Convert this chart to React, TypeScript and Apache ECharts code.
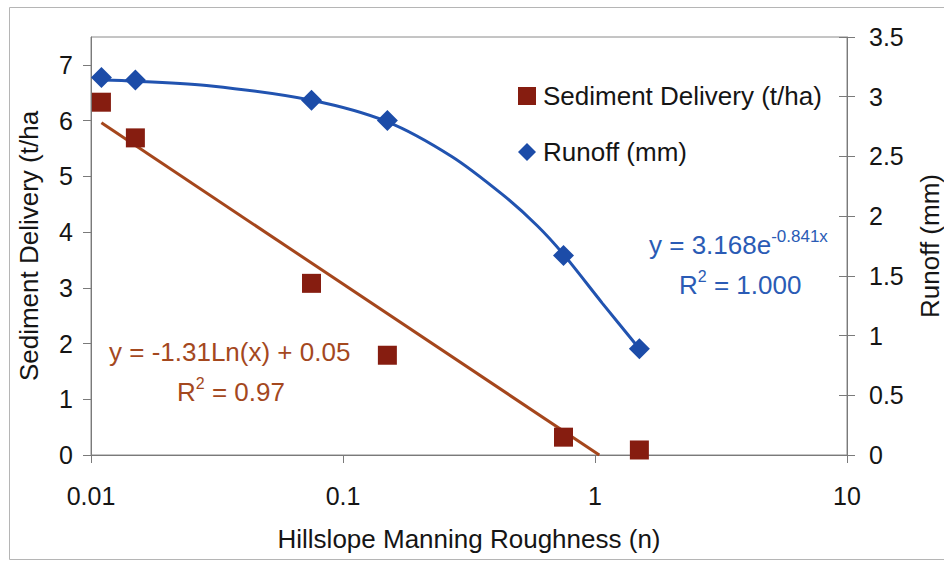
import React, { useEffect, useRef } from "react";
import * as echarts from "echarts";

const roughness = [0.011, 0.015, 0.075, 0.15, 0.75, 1.5];
const sedimentDelivery = [6.33, 5.69, 3.08, 1.79, 0.32, 0.09];
const runoff = [3.16, 3.14, 2.97, 2.8, 1.67, 0.89];

// Trend lines
const sedimentTrendX = [0.011, 1.04];
const sedimentTrendY = [5.96, 0];
const runoffTrendX = [0.011, 0.015, 0.03, 0.075, 0.15, 0.27, 0.43, 0.59, 0.75, 1.07, 1.5];
const runoffTrendY = [3.14, 3.13, 3.09, 2.97, 2.79, 2.5, 2.18, 1.92, 1.68, 1.27, 0.89];

// Axes
const xTickLabels = ["0.01", "0.1", "1", "10"];
const leftTicks = [0, 1, 2, 3, 4, 5, 6, 7];
const rightTicks = [0, 0.5, 1, 1.5, 2, 2.5, 3, 3.5];

const FONT = "'Liberation Sans', Arial, Helvetica, sans-serif";
const AXIS_GRAY = "#7a7a7a";
const TEXT = "#151515";
const SED_MARK = "#861d10";
const SED_LINE = "#a5461c";
const SED_TEXT = "#a4481e";
const RUN_MARK = "#1c4ca8";
const RUN_LINE = "#2153b0";
const RUN_TEXT = "#2a5bb5";

export default function App() {
  const ref = useRef<HTMLDivElement>(null);

  useEffect(() => {
    document.body.style.margin = "0";
    if (!ref.current) return;
    const chart = echarts.init(ref.current, undefined, { renderer: "svg" });

    const option: any = {
      animation: false,
      backgroundColor: "#ffffff",
      textStyle: { fontFamily: FONT },
      grid: {
        left: 91,
        top: 37,
        right: 97,
        bottom: 106,
        containLabel: false,
        outerBoundsMode: "none",
        show: true,
        borderColor: "#8a8a8a",
        borderWidth: 1,
      },
      legend: {
        orient: "vertical",
        left: 513,
        top: 78,
        itemWidth: 18,
        itemHeight: 18,
        itemGap: 30,
        data: ["Sediment Delivery (t/ha)", "Runoff (mm)"],
        textStyle: { fontSize: 26, color: TEXT, fontFamily: FONT, padding: [0, 0, 0, 2] },
      },
      xAxis: {
        type: "log",
        logBase: 10,
        min: 0.01,
        max: 10,
        name: "Hillslope Manning Roughness (n)",
        nameLocation: "middle",
        nameGap: 71,
        nameTextStyle: { fontSize: 26, color: TEXT, fontFamily: FONT },
        axisLine: { show: true, lineStyle: { color: AXIS_GRAY, width: 1 } },
        axisTick: { show: true, length: 8, lineStyle: { color: AXIS_GRAY } },
        axisLabel: {
          fontSize: 25,
          color: TEXT,
          fontFamily: FONT,
          margin: 28,
          formatter: (v: number) => xTickLabels[Math.round(Math.log10(v)) + 2] ?? "",
        },
        splitLine: { show: false },
        minorTick: { show: false },
      },
      yAxis: [
        {
          type: "value",
          min: 0,
          max: 7.5,
          position: "left",
          name: "Sediment Delivery (t/ha",
          nameLocation: "middle",
          nameGap: 49,
          nameTextStyle: { fontSize: 26, color: TEXT, fontFamily: FONT },
          axisLine: { show: true, lineStyle: { color: AXIS_GRAY } },
          axisTick: { show: true, length: 8, customValues: leftTicks, lineStyle: { color: AXIS_GRAY } },
          axisLabel: { fontSize: 25, color: TEXT, fontFamily: FONT, margin: 18, customValues: leftTicks },
          splitLine: { show: false },
        },
        {
          type: "value",
          min: 0,
          max: 3.5,
          interval: 0.5,
          position: "right",
          name: "Runoff (mm)",
          nameLocation: "middle",
          nameGap: 70,
          nameRotate: 90,
          nameTextStyle: { fontSize: 26, color: TEXT, fontFamily: FONT },
          axisLine: { show: true, onZero: false, lineStyle: { color: AXIS_GRAY } },
          axisTick: { show: true, length: 8, customValues: rightTicks, lineStyle: { color: AXIS_GRAY } },
          axisLabel: { fontSize: 25, color: TEXT, fontFamily: FONT, margin: 22, customValues: rightTicks },
          splitLine: { show: false },
        },
        {
          type: "value",
          min: 0,
          max: 3.5,
          interval: 0.5,
          position: "right",
          axisLine: { show: false },
          axisTick: { show: true, inside: true, length: 8, lineStyle: { color: AXIS_GRAY } },
          axisLabel: { show: false },
          splitLine: { show: false },
        },
      ],
      series: [
        {
          name: "Sediment trend",
          type: "line",
          xAxisIndex: 0,
          yAxisIndex: 0,
          data: sedimentTrendX.map((x, i) => [x, sedimentTrendY[i]]),
          showSymbol: false,
          symbol: "none",
          lineStyle: { color: SED_LINE, width: 3 },
          z: 2,
          silent: true,
        },
        {
          name: "Runoff trend",
          type: "line",
          xAxisIndex: 0,
          yAxisIndex: 1,
          data: runoffTrendX.map((x, i) => [x, runoffTrendY[i]]),
          smooth: 0.3,
          showSymbol: false,
          symbol: "none",
          lineStyle: { color: RUN_LINE, width: 3 },
          z: 2,
          silent: true,
        },
        {
          name: "Sediment Delivery (t/ha)",
          type: "scatter",
          xAxisIndex: 0,
          yAxisIndex: 0,
          symbol: "rect",
          symbolSize: 19,
          itemStyle: { color: SED_MARK, opacity: 1 },
          data: roughness.map((x, i) => [x, sedimentDelivery[i]]),
          z: 4,
        },
        {
          name: "Runoff (mm)",
          type: "scatter",
          xAxisIndex: 0,
          yAxisIndex: 1,
          symbol: "diamond",
          symbolSize: 21,
          itemStyle: { color: RUN_MARK, opacity: 1 },
          data: roughness.map((x, i) => [x, runoff[i]]),
          z: 4,
        },
      ],
      graphic: [
        {
          type: "rect",
          silent: true,
          shape: { x: 9.5, y: 7.5, width: 960, height: 552 },
          style: { fill: "none", stroke: "#b5b5b5", lineWidth: 1 },
          z: 0,
        },
        {
          type: "text",
          x: 109,
          y: 352,
          style: {
            text: "y = -1.31Ln(x) + 0.05",
            fill: SED_TEXT,
            fontSize: 26,
            fontFamily: FONT,
            verticalAlign: "middle",
            align: "left",
          },
        },
        {
          type: "text",
          x: 177,
          y: 390,
          style: {
            text: "{m|R}{s|2}{m| = 0.97}",
            fill: SED_TEXT,
            fontFamily: FONT,
            verticalAlign: "middle",
            align: "left",
            rich: {
              m: { fontSize: 26, lineHeight: 30, verticalAlign: "bottom", fill: SED_TEXT, fontFamily: FONT },
              s: { fontSize: 16, lineHeight: 16, verticalAlign: "top", fill: SED_TEXT, fontFamily: FONT },
            },
          },
        },
        {
          type: "text",
          x: 649,
          y: 243,
          style: {
            text: "{m|y = 3.168e}{s|-0.841x}",
            fill: RUN_TEXT,
            fontFamily: FONT,
            verticalAlign: "middle",
            align: "left",
            rich: {
              m: { fontSize: 26, lineHeight: 30, verticalAlign: "bottom", fill: RUN_TEXT, fontFamily: FONT },
              s: { fontSize: 17, lineHeight: 17, verticalAlign: "top", fill: RUN_TEXT, fontFamily: FONT },
            },
          },
        },
        {
          type: "text",
          x: 679,
          y: 283,
          style: {
            text: "{m|R}{s|2}{m| = 1.000}",
            fill: RUN_TEXT,
            fontFamily: FONT,
            verticalAlign: "middle",
            align: "left",
            rich: {
              m: { fontSize: 26, lineHeight: 30, verticalAlign: "bottom", fill: RUN_TEXT, fontFamily: FONT },
              s: { fontSize: 16, lineHeight: 16, verticalAlign: "top", fill: RUN_TEXT, fontFamily: FONT },
            },
          },
        },
      ],
    };

    chart.setOption(option);
    return () => {
      chart.dispose();
    };
  }, []);

  return <div ref={ref} style={{ width: 944, height: 561 }} />;
}
